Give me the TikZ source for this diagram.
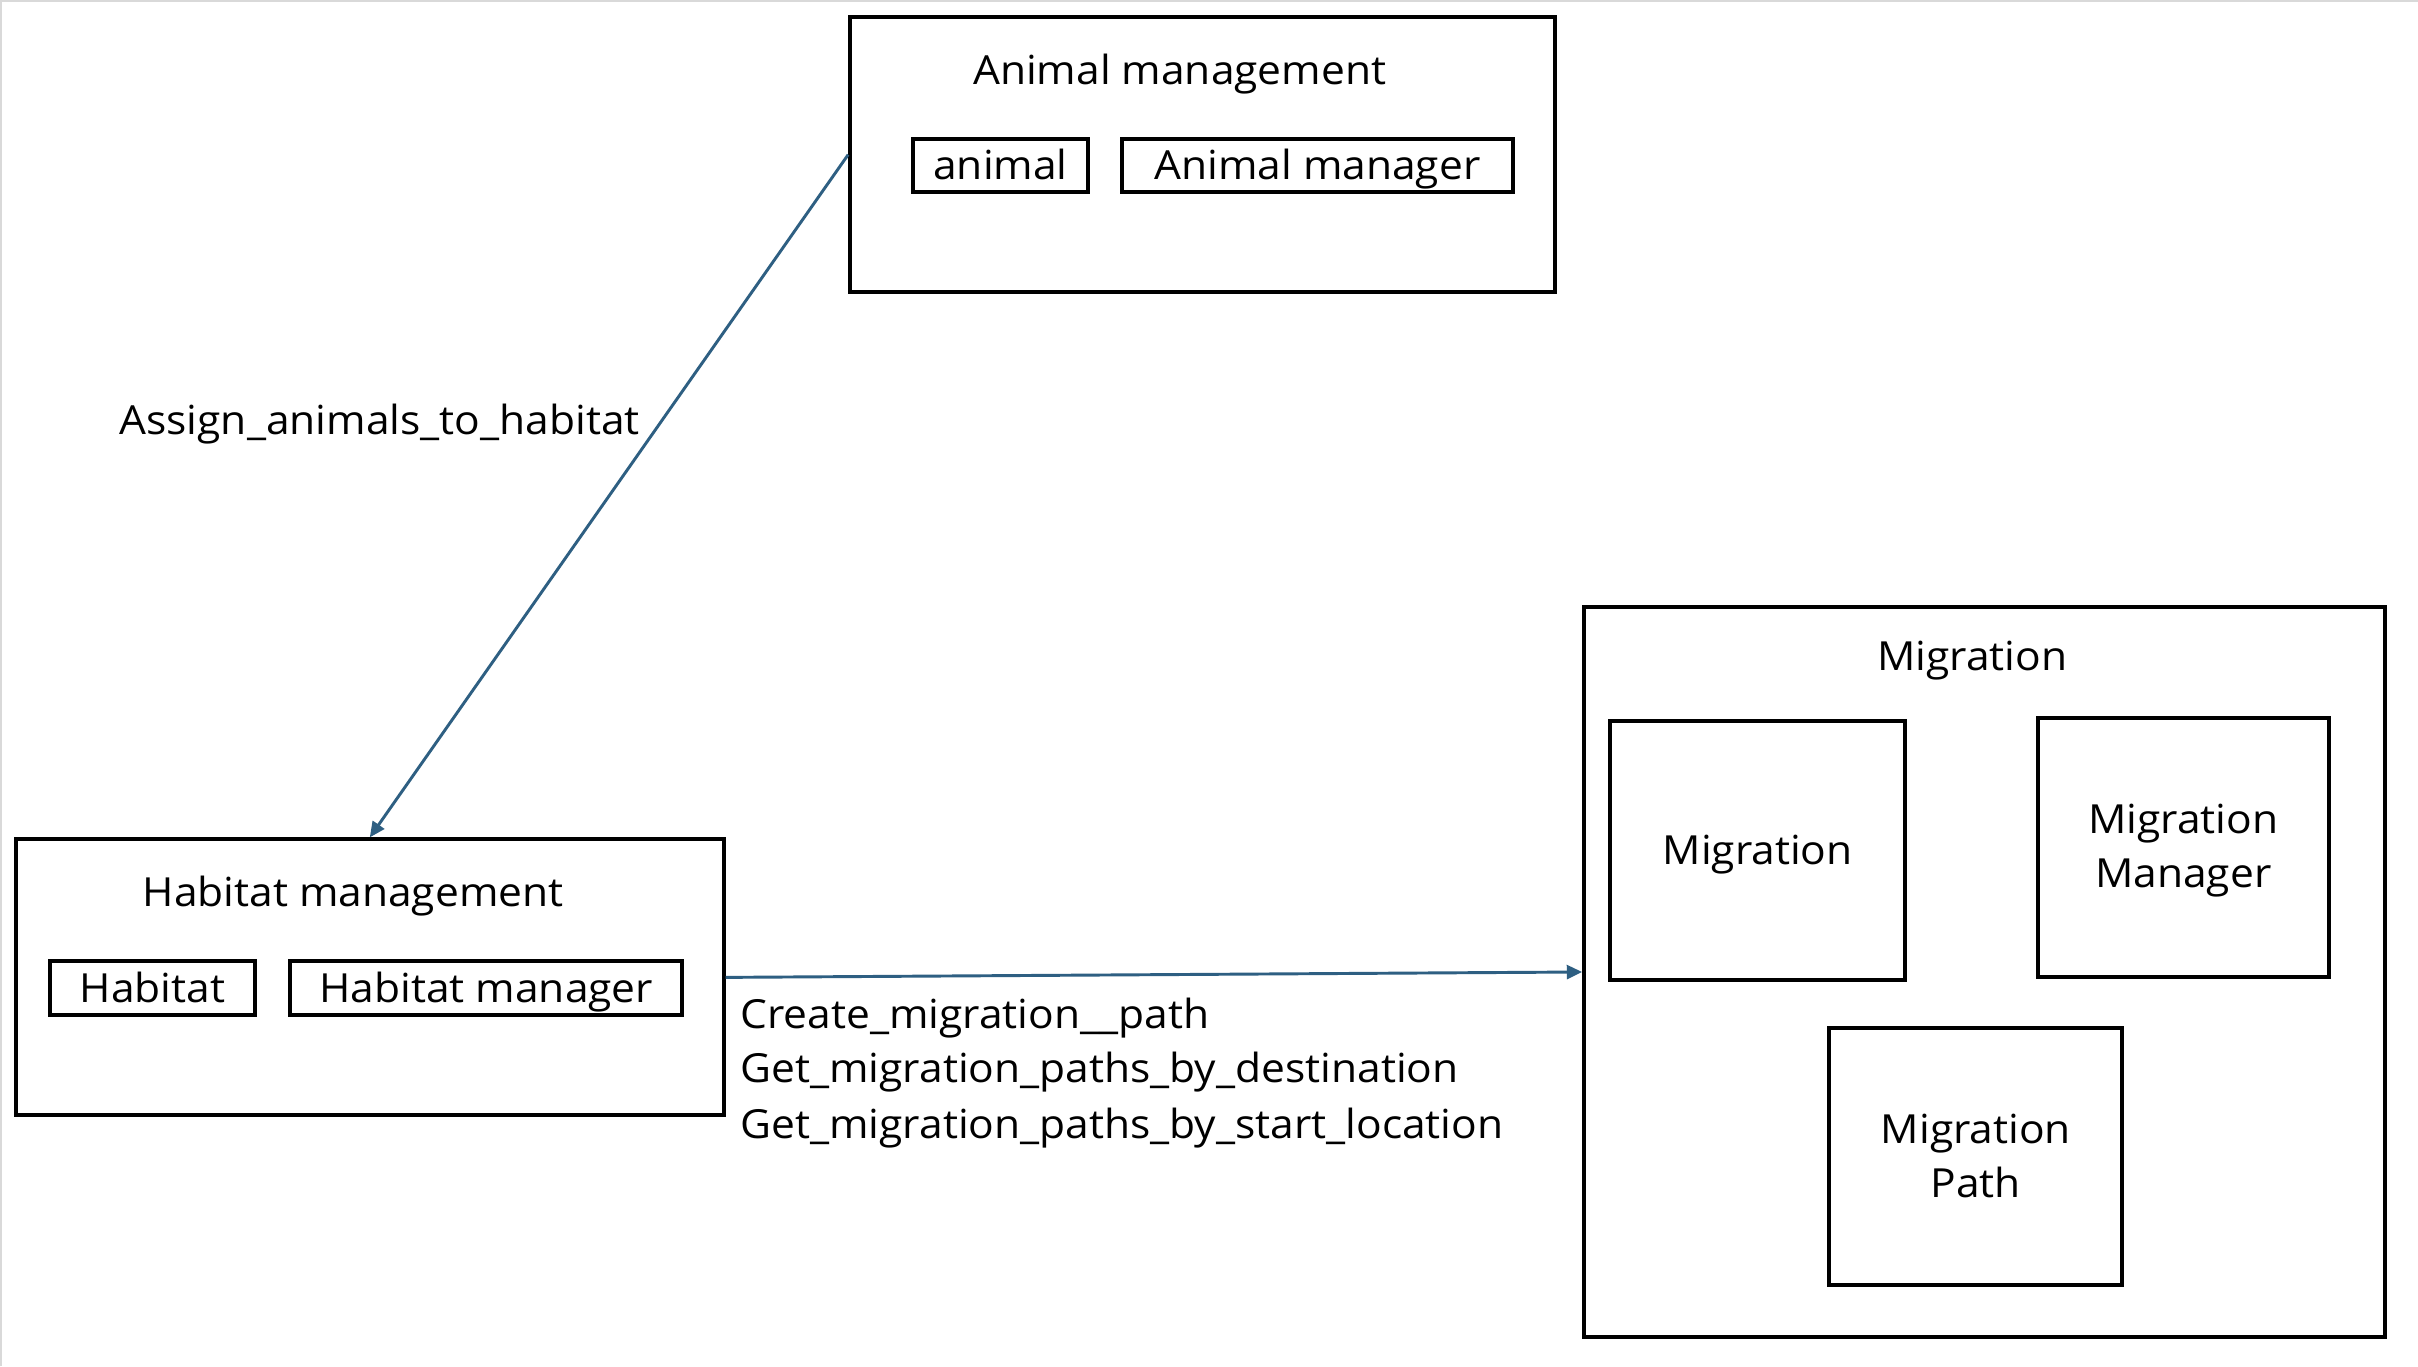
\documentclass[tikz,border=0pt]{standalone}
\usepackage{fontspec}
\setmainfont[FakeStretch=1.06]{Open Sans}
\usetikzlibrary{arrows.meta}
\definecolor{arrowblue}{RGB}{46,95,130}
\definecolor{framegray}{RGB}{217,217,217}
\begin{document}
\begin{tikzpicture}[x=1pt,y=-1pt,
  outerbox/.style={draw=black,line width=2.6pt,rectangle,anchor=north west,inner sep=0pt},
  innerbox/.style={draw=black,line width=2.6pt,rectangle,anchor=north west,inner sep=0pt},
  lbl/.style={font=\fontsize{26}{31}\selectfont,inner sep=0pt,anchor=base},
  arr/.style={draw=arrowblue,line width=1.9pt,-{Triangle[length=10pt,width=9pt]}}]
\useasboundingbox (0,0) rectangle (1568,886);
\fill[white] (0,0) rectangle (1568,886);
\draw[framegray,line width=1.4pt] (0.7,886) -- (0.7,0.7) -- (1568,0.7);
% Animal management
\node[outerbox,minimum width=457pt,minimum height=178pt] (am) at (550,10) {};
\node[lbl] (amt) at (765,55) {Animal management};
\node[innerbox,minimum width=113pt,minimum height=34pt] (amb1) at (591,89) {};
\node[lbl] (amb1t) at ([yshift=-9pt]amb1.center) {animal};
\node[innerbox,minimum width=254pt,minimum height=34pt] (amb2) at (726,89) {};
\node[lbl] (amb2t) at ([yshift=-9pt]amb2.center) {Animal manager};
% Habitat management
\node[outerbox,minimum width=459pt,minimum height=179pt] (hm) at (9,543) {};
\node[lbl] (hmt) at (229,588) {Habitat management};
\node[innerbox,minimum width=133pt,minimum height=35pt] (hmb1) at (31,622) {};
\node[lbl] (hmb1t) at ([yshift=-9pt]hmb1.center) {Habitat};
\node[innerbox,minimum width=254pt,minimum height=35pt] (hmb2) at (187,622) {};
\node[lbl] (hmb2t) at ([yshift=-9pt]hmb2.center) {Habitat manager};
% Migration
\node[outerbox,minimum width=519pt,minimum height=474pt] (mg) at (1026,392) {};
\node[lbl] (mgt) at (1279,435) {Migration};
\node[innerbox,minimum width=191pt,minimum height=168pt] (mgb1) at (1043,466) {};
\node[lbl] (mgb1t) at ([yshift=-9pt]mgb1.center) {Migration};
\node[innerbox,minimum width=189pt,minimum height=168pt] (mgb2) at (1320,464) {};
\node[lbl] (mgb2t) at ([yshift=8.5pt]mgb2.center) {Migration};
\node[lbl] (mgb2u) at ([yshift=-26.5pt]mgb2.center) {Manager};
\node[innerbox,minimum width=190pt,minimum height=167pt] (mgb3) at (1185,665) {};
\node[lbl] (mgb3t) at ([yshift=8.5pt]mgb3.center) {Migration};
\node[lbl] (mgb3u) at ([yshift=-26.5pt]mgb3.center) {Path};
% connectors
\draw[arr] (am.west) -- (hm.north);
\draw[arr] (hm.east) -- (mg.west);
\node[lbl,anchor=base east] (a1) at (415,282) {Assign\_animals\_to\_habitat};
\node[lbl,anchor=base west] (l1) at (480,667) {Create\_migration\_\_path};
\node[lbl,anchor=base west] (l2) at (480,702) {Get\_migration\_paths\_by\_destination};
\node[lbl,anchor=base west] (l3) at (480,738) {Get\_migration\_paths\_by\_start\_location};
\end{tikzpicture}
\end{document}
